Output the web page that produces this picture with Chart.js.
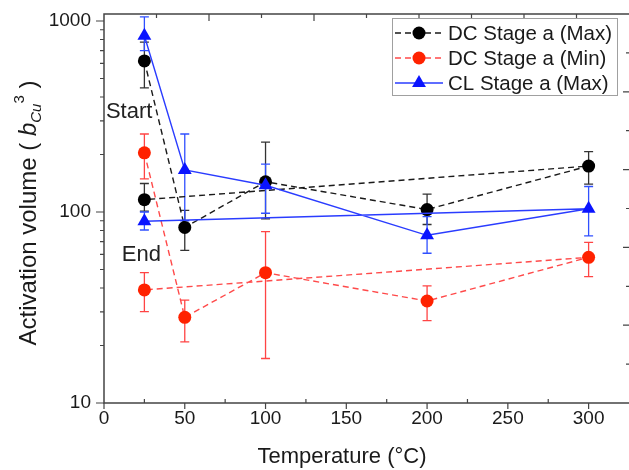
<!DOCTYPE html>
<html>
<head>
<meta charset="utf-8">
<script src="https://cdn.jsdelivr.net/npm/chart.js"></script>
<style>
  html, body { margin: 0; padding: 0; background: #fff; }
</style>
</head>
<body>
<canvas id="volumeChart" width="629" height="470"></canvas>
<script>
// temperatures in visiting order (loop starts and ends at 25 C)
const temps = [25, 50, 100, 200, 300, 25];

const dcMax   = [618, 83, 144, 103, 174, 116];
const dcMaxLo = [446, 63, 92, 86, 140, 101];
const dcMaxHi = [776, 102, 232, 124, 207, 141];

const dcMin   = [204, 28.1, 48.1, 34.2, 57.9, 39.1];
const dcMinLo = [149, 20.9, 17.1, 27, 45.9, 30.1];
const dcMinHi = [256, 34.6, 78.9, 41, 69.4, 48.1];

const clMax   = [837, 166, 138, 75.5, 104, 89.4];
const clMaxLo = [700, 90, 98.5, 60.8, 75, 80.5];
const clMaxHi = [1052, 256, 178, 94.5, 136, 100];

const xTicks = [0, 50, 100, 150, 200, 250, 300];
const xMinor = [25, 75, 125, 175, 225, 275];
const yTicks = [10, 100, 1000];
const yMinor = [20, 30, 40, 50, 60, 70, 80, 90, 200, 300, 400, 500, 600, 700, 800, 900];

const noteText = ['Start', 'End'];
const noteX = [1.2, 11];
const noteY = [310, 55.3];

const FONT = '"Liberation Sans", Arial, sans-serif';

function toPoints(ys) {
  return temps.map((t, i) => ({ x: t, y: ys[i] }));
}

const series = [
  { label: 'DC Stage a (Max)', data: dcMax, lo: dcMaxLo, hi: dcMaxHi, order: 1,
    color: '#000000', line: '#1a1a1a', err: '#333333', dash: [6, 4], shape: 'circle', r: 6.5 },
  { label: 'DC Stage a (Min)', data: dcMin, lo: dcMinLo, hi: dcMinHi, order: 2,
    color: '#ff2200', line: '#ff4a4a', err: '#ff4444', dash: [6, 4], shape: 'circle', r: 6.5 },
  { label: 'CL Stage a (Max)', data: clMax, lo: clMaxLo, hi: clMaxHi, order: 0,
    color: '#0a14ff', line: '#2a3cff', err: '#3050ff', dash: [], shape: 'triangle', r: 8 }
];

// error bars, drawn under the markers
const errorBars = {
  id: 'errorBars',
  beforeDatasetsDraw(chart) {
    const ctx = chart.ctx, xs = chart.scales.x, ys = chart.scales.y;
    ctx.save();
    ctx.lineWidth = 1.3;
    series.forEach(s => {
      ctx.strokeStyle = s.err;
      temps.forEach((t, i) => {
        const px = xs.getPixelForValue(t);
        const top = ys.getPixelForValue(s.hi[i]);
        const bot = ys.getPixelForValue(s.lo[i]);
        ctx.beginPath();
        ctx.moveTo(px, top); ctx.lineTo(px, bot);
        ctx.moveTo(px - 4.5, top); ctx.lineTo(px + 4.5, top);
        ctx.moveTo(px - 4.5, bot); ctx.lineTo(px + 4.5, bot);
        ctx.stroke();
      });
    });
    ctx.restore();
  }
};

// frame, tick marks, titles, notes and legend
const decorations = {
  id: 'decorations',
  afterDraw(chart) {
    const ctx = chart.ctx, a = chart.chartArea;
    const xs = chart.scales.x, ys = chart.scales.y;
    ctx.save();
    ctx.strokeStyle = '#444';
    ctx.lineWidth = 1.5;
    // right edge of the frame sits just past the picture edge
    ctx.beginPath();
    ctx.moveTo(a.right + 2, a.top);
    ctx.lineTo(a.left, a.top);
    ctx.lineTo(a.left, a.bottom);
    ctx.lineTo(a.right + 2, a.bottom);
    ctx.stroke();

    ctx.lineWidth = 1.2;
    ctx.beginPath();
    yTicks.forEach(v => { const p = ys.getPixelForValue(v); ctx.moveTo(a.left - 8, p); ctx.lineTo(a.left, p); });
    yMinor.forEach(v => { const p = ys.getPixelForValue(v); ctx.moveTo(a.left - 4, p); ctx.lineTo(a.left, p); });
    xTicks.forEach(v => { const p = xs.getPixelForValue(v); ctx.moveTo(p, a.bottom); ctx.lineTo(p, a.bottom + 6); });
    xMinor.forEach(v => { const p = xs.getPixelForValue(v); ctx.moveTo(p, a.bottom); ctx.lineTo(p, a.bottom - 4); });
    // mirrored frame ticks on top and right
    for (let k = 1; k < 10; k++) {
      const len = k % 2 === 0 ? 7 : 4;
      const px = a.left + k * (a.right - a.left) / 10;
      ctx.moveTo(px, a.top); ctx.lineTo(px, a.top + len);
      const py = a.top + k * (a.bottom - a.top) / 10;
      ctx.moveTo(a.right + 1, py); ctx.lineTo(a.right + 1 - len, py);
    }
    ctx.stroke();

    ctx.fillStyle = '#1a1a1a';
    // x title
    ctx.font = '22px ' + FONT;
    ctx.textAlign = 'center';
    ctx.textBaseline = 'alphabetic';
    ctx.fillText('Temperature (°C)', 342, 463);

    // y title with sub/superscript
    ctx.save();
    ctx.translate(36, 213);
    ctx.rotate(-Math.PI / 2);
    ctx.textAlign = 'left';
    const parts = [
      { t: 'Activation volume ( ', f: '24px ' + FONT, dy: 0 },
      { t: 'b', f: 'italic 24px ' + FONT, dy: 0 },
      { t: 'Cu', f: 'italic 15px ' + FONT, dy: 5 },
      { t: '3', f: '15px ' + FONT, dy: -12 },
      { t: ' )', f: '24px ' + FONT, dy: 0 }
    ];
    let total = 0;
    parts.forEach(p => { ctx.font = p.f; p.w = ctx.measureText(p.t).width; total += p.w; });
    let cx = -total / 2;
    parts.forEach(p => { ctx.font = p.f; ctx.fillText(p.t, cx, p.dy); cx += p.w; });
    ctx.restore();

    // Start / End notes
    ctx.font = '22px ' + FONT;
    ctx.textAlign = 'left';
    ctx.fillStyle = '#222';
    noteText.forEach((t, i) => {
      ctx.fillText(t, xs.getPixelForValue(noteX[i]), ys.getPixelForValue(noteY[i]));
    });

    // legend
    const lx = 392, ly = 18, lw = 225, lh = 77;
    ctx.fillStyle = '#fff';
    ctx.fillRect(lx, ly, lw, lh);
    ctx.strokeStyle = '#a0a0a0';
    ctx.lineWidth = 1;
    ctx.strokeRect(lx + 0.5, ly + 0.5, lw, lh);
    ctx.font = '20.5px ' + FONT;
    ctx.textBaseline = 'middle';
    series.forEach((s, i) => {
      const y = 33 + i * 25;
      ctx.strokeStyle = s.line;
      ctx.lineWidth = 1.4;
      ctx.setLineDash(s.dash);
      ctx.beginPath();
      ctx.moveTo(395, y); ctx.lineTo(443, y);
      ctx.stroke();
      ctx.setLineDash([]);
      ctx.fillStyle = s.color;
      ctx.beginPath();
      if (s.shape === 'circle') {
        ctx.arc(419, y, s.r, 0, Math.PI * 2);
      } else {
        ctx.moveTo(419, y - s.r);
        ctx.lineTo(419 + s.r * 0.866, y + s.r / 2);
        ctx.lineTo(419 - s.r * 0.866, y + s.r / 2);
        ctx.closePath();
      }
      ctx.fill();
      ctx.fillStyle = '#1a1a1a';
      ctx.fillText(s.label, 448, y + 1);
    });
    ctx.restore();
  }
};

function noPadding(scale) {
  scale.paddingTop = 0;
  scale.paddingBottom = 0;
  scale.paddingLeft = 0;
  scale.paddingRight = 0;
}

const ctx = document.getElementById('volumeChart').getContext('2d');
const volumeChart = new Chart(ctx, {
  type: 'scatter',
  data: {
    datasets: series.map(s => ({
      label: s.label,
      data: toPoints(s.data),
      showLine: true,
      borderColor: s.line,
      borderWidth: 1.4,
      borderDash: s.dash,
      pointStyle: s.shape,
      pointRadius: s.r,
      pointBackgroundColor: s.color,
      pointBorderColor: s.color,
      pointBorderWidth: 0,
      pointHoverRadius: s.r,
      tension: 0,
      order: s.order
    }))
  },
  options: {
    responsive: false,
    animation: false,
    devicePixelRatio: 1,
    layout: { autoPadding: false, padding: { top: 14, right: 0, left: 0, bottom: 0 } },
    plugins: {
      legend: { display: false },
      tooltip: { enabled: false }
    },
    scales: {
      x: {
        type: 'linear',
        min: 0,
        max: 325,
        grid: { display: false, drawTicks: false },
        border: { display: false },
        afterBuildTicks: scale => { scale.ticks = xTicks.map(v => ({ value: v })); },
        afterFit: scale => { scale.height = 67; noPadding(scale); },
        ticks: {
          padding: 4,
          maxRotation: 0,
          autoSkip: false,
          color: '#1a1a1a',
          font: { family: FONT, size: 19 }
        }
      },
      y: {
        type: 'logarithmic',
        min: 10,
        max: 1088,
        grid: { display: false, drawTicks: false },
        border: { display: false },
        afterBuildTicks: scale => { scale.ticks = yTicks.map(v => ({ value: v })); },
        afterFit: scale => { scale.width = 104; noPadding(scale); },
        ticks: {
          padding: 13,
          autoSkip: false,
          color: '#1a1a1a',
          font: { family: FONT, size: 19 },
          callback: v => String(v)
        }
      }
    }
  },
  plugins: [errorBars, decorations]
});
</script>
</body>
</html>
